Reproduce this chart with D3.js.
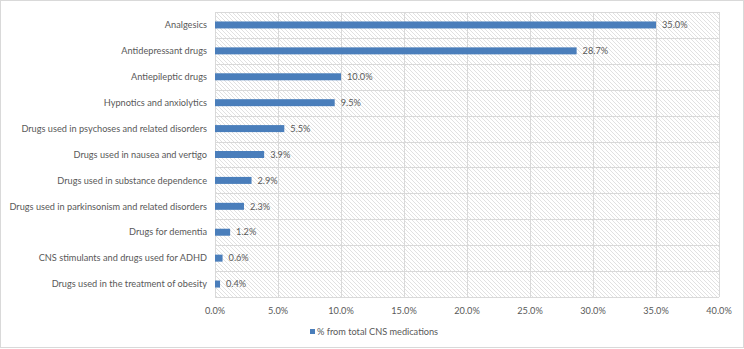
<!DOCTYPE html>
<html><head><meta charset="utf-8">
<script src="https://cdn.jsdelivr.net/npm/d3@7"></script>
<style>body{margin:0;background:#fff;}svg{display:block;font-family:Lato,"Open Sans",sans-serif;}</style>
</head><body>
<svg id="c" width="744" height="349"></svg>
<script>
const categories = ["Analgesics","Antidepressant drugs","Antiepileptic drugs","Hypnotics and anxiolytics","Drugs used in psychoses and related disorders","Drugs used in nausea and vertigo","Drugs used in substance dependence","Drugs used in parkinsonism and related disorders","Drugs for dementia","CNS stimulants and drugs used for ADHD","Drugs used in the treatment of obesity"];
const values = [35.0,28.7,10.0,9.5,5.5,3.9,2.9,2.3,1.2,0.6,0.4];
const xTicks = [0,5,10,15,20,25,30,35,40];
const seriesName = "% from total CNS medications";

const svg = d3.select("#c");
const L=215,R=719,T=12,B=297;
svg.append("rect").attr("x",0.5).attr("y",0.5).attr("width",743).attr("height",347).attr("fill","#fff").attr("stroke","#d9d9d9");
const defs=svg.append("defs");
const pat=defs.append("pattern").attr("id","hatch").attr("patternUnits","userSpaceOnUse").attr("width",4).attr("height",4);
pat.append("path").attr("d","M-1,-1L5,5M-1,3L1,5M3,-1L5,1").attr("stroke","#dedede").attr("stroke-width",0.9).attr("fill","none");
const x=d3.scaleLinear().domain([0,40]).range([L,R]);
const yb=d3.scaleBand().domain(categories).range([T,B]);
svg.append("rect").attr("x",L).attr("y",T).attr("width",R-L).attr("height",B-T).attr("fill","url(#hatch)");
// grid
svg.append("g").selectAll("line").data(xTicks).join("line").attr("x1",d=>Math.round(x(d))+0.5).attr("x2",d=>Math.round(x(d))+0.5).attr("y1",T).attr("y2",B).attr("stroke","#d9d9d9");
const hb=categories.map(c=>yb(c)).concat([B]);
svg.append("g").selectAll("line").data(hb).join("line").attr("x1",L).attr("x2",R).attr("y1",d=>Math.round(d)+0.5).attr("y2",d=>Math.round(d)+0.5).attr("stroke","#d9d9d9");
// bars
svg.append("g").selectAll("rect").data(values).join("rect").attr("x",x(0)).attr("y",(d,i)=>yb(categories[i])+yb.bandwidth()/2-3.5).attr("height",7).attr("width",d=>x(d)-x(0)).attr("fill","#4a7ebb");
svg.append("g").selectAll("text").data(values).join("text").attr("x",d=>x(d)+6).attr("y",(d,i)=>yb(categories[i])+yb.bandwidth()/2).attr("dy","0.35em").attr("font-size",9.2).attr("fill","#595959").text(d=>d.toFixed(1)+"%");
// y labels
svg.append("g").selectAll("text").data(categories).join("text").attr("x",207).attr("y",d=>yb(d)+yb.bandwidth()/2).attr("dy","0.35em").attr("text-anchor","end").attr("font-size",9.2).attr("fill","#595959").text(d=>d);
// x labels
svg.append("g").selectAll("text").data(xTicks).join("text").attr("x",d=>x(d)).attr("y",311).attr("dy","0.35em").attr("text-anchor","middle").attr("font-size",9.2).attr("fill","#595959").text(d=>d.toFixed(1)+"%");
// legend
svg.append("rect").attr("x",310).attr("y",329).attr("width",5).attr("height",5).attr("fill","#4a7ebb");
svg.append("text").attr("x",317).attr("y",332).attr("dy","0.35em").attr("font-size",9.2).attr("fill","#595959").text(seriesName);
</script>
</body></html>
